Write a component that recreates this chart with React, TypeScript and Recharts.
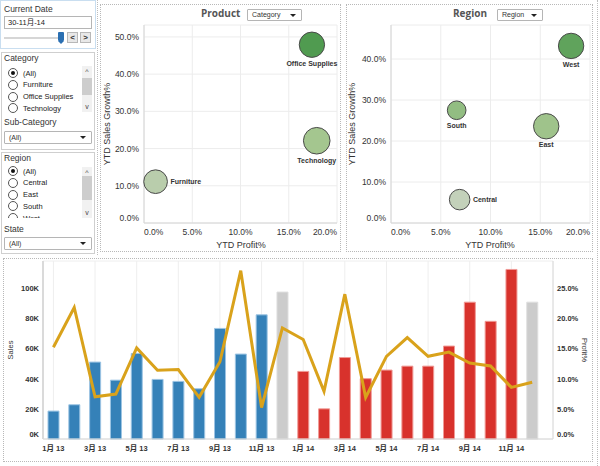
import React from 'react';
import {
  ScatterChart, Scatter, XAxis, YAxis, ZAxis, CartesianGrid, LabelList, Cell,
  ComposedChart, Bar, Line,
} from 'recharts';

const FONT = "Arial, 'Liberation Sans', 'Noto Sans CJK SC', sans-serif";
const TITLE_FONT = "'Open Sans', 'Liberation Sans', sans-serif";

// ---------- filters ----------
const currentDateText = '30-11月-14';
const currentMonth = 11;
const categoryFilterItems = ['(All)', 'Furniture', 'Office Supplies', 'Technology'];
const regionFilterItems = ['(All)', 'Central', 'East', 'South', 'West'];

// ---------- Product (Category) bubbles ----------
const categoryNames = ['Furniture', 'Office Supplies', 'Technology'];
const categoryProfitPct = [1.2, 17.4, 17.9];
const categoryGrowthPct = [11.1, 47.9, 22.1];
const categorySalesK = [215, 246, 271];

// ---------- Region bubbles ----------
const regionNames = ['Central', 'East', 'South', 'West'];
const regionProfitPct = [6.9, 15.6, 6.6, 18.1];
const regionGrowthPct = [5.7, 23.6, 27.5, 43.2];
const regionSalesK = [162, 247, 133, 247];

// ---------- monthly ----------
const monthLabels = [
  '1月 13', '2月 13', '3月 13', '4月 13', '5月 13', '6月 13', '7月 13', '8月 13', '9月 13', '10月 13', '11月 13', '12月 13',
  '1月 14', '2月 14', '3月 14', '4月 14', '5月 14', '6月 14', '7月 14', '8月 14', '9月 14', '10月 14', '11月 14', '12月 14',
];
const monthlySales = [
  18500, 22700, 51000, 39000, 56700, 39500, 38200, 33300, 73300, 56300, 82300, 97400,
  44800, 20000, 54000, 40000, 45700, 48300, 48300, 61600, 90700, 78000, 112400, 90700,
];
const monthlyProfitPct = [
  15.2, 21.8, 7.0, 7.45, 15.1, 11.4, 11.5, 6.9, 12.8, 27.9, 5.2, 18.4,
  16.5, 7.9, 24.0, 6.9, 13.7, 16.8, 13.7, 14.4, 12.6, 12.1, 8.55, 9.4,
];

// ---------- ticks ----------
const profitTicks = [0, 5, 10, 15, 20];
const productGrowthTicks = [0, 10, 20, 30, 40, 50];
const regionGrowthTicks = [0, 10, 20, 30, 40];
const salesTicks = [0, 20000, 40000, 60000, 80000, 100000];
const profitRatioTicks = [0, 0.05, 0.1, 0.15, 0.2, 0.25];
const monthTicks = [0, 2, 4, 6, 8, 10, 12, 14, 16, 18, 20, 22];

const productData = categoryNames.map((name, i) => ({
  name, x: categoryProfitPct[i], y: categoryGrowthPct[i], z: categorySalesK[i],
}));
const regionData = regionNames.map((name, i) => ({
  name, x: regionProfitPct[i], y: regionGrowthPct[i], z: regionSalesK[i],
}));
const monthData = monthLabels.map((label, i) => ({
  idx: i, label, sales: monthlySales[i], profit: monthlyProfitPct[i] / 100,
}));

function growthColor(g: number) {
  const stops: [number, number[]][] = [
    [0, [206, 213, 201]],
    [22, [164, 198, 143]],
    [48, [80, 155, 80]],
  ];
  let a = stops[0], b = stops[1];
  if (g > stops[1][0]) { a = stops[1]; b = stops[2]; }
  const t = Math.max(0, Math.min(1, (g - a[0]) / (b[0] - a[0])));
  const c = a[1].map((v, k) => Math.round(v + (b[1][k] - v) * t));
  return `rgb(${c[0]},${c[1]},${c[2]})`;
}

function barColor(i: number) {
  const month = (i % 12) + 1;
  if (month > currentMonth) return { fill: '#cccccc', stroke: '#dedede' };
  const year = monthLabels[i].slice(-2);
  return year === '13'
    ? { fill: '#3581b8', stroke: '#9cc4e3' }
    : { fill: '#d8322c', stroke: '#f09a96' };
}

const rightLabelNames = new Set(['Furniture', 'Central']);

const renderBubbleLabel = (p: any) => {
  const vb = p.viewBox && p.viewBox.width !== undefined ? p.viewBox : p;
  const { x, y, width, height } = vb;
  const value = p.value;
  const cx = x + width / 2;
  const cy = y + height / 2;
  if (rightLabelNames.has(value)) {
    return (
      <text x={x + width + 3} y={cy + 2.5} fontSize={7} fontWeight="bold" fill="#333" fontFamily={FONT}>
        {value}
      </text>
    );
  }
  return (
    <text x={cx} y={y + height + 8.5} textAnchor="middle" fontSize={7} fontWeight="bold" fill="#333" fontFamily={FONT}>
      {value}
    </text>
  );
};

const ScatterXTick = (props: any) => {
  const { x, y, payload } = props;
  const v = payload.value;
  const anchor = v === profitTicks[0] ? 'start' : v === profitTicks[profitTicks.length - 1] ? 'end' : 'middle';
  return (
    <text x={x} y={y + 12} textAnchor={anchor} fontSize={8.5} fill="#333" fontFamily={FONT}>
      {v.toFixed(1)}%
    </text>
  );
};

const ScatterYTick = (props: any) => {
  const { x, y, payload } = props;
  const v = payload.value;
  return (
    <text x={x - 5} y={v === 0 ? y - 2 : y + 3} textAnchor="end" fontSize={8.5} fill="#333" fontFamily={FONT}>
      {v.toFixed(1)}%
    </text>
  );
};

function BubbleChart({ data, width, height, yMax, yTicks, yAxisWidth }: any) {
  return (
    <ScatterChart width={width} height={height} margin={{ top: 22, right: 6, bottom: 0, left: 0 }}>
      <CartesianGrid stroke="#ececec" />
      <XAxis
        type="number" dataKey="x" domain={[0, 20]} ticks={profitTicks} interval={0}
        tick={<ScatterXTick />} tickLine={false} tickSize={0} tickMargin={0}
        axisLine={{ stroke: '#d6d6d6' }} height={30}
      />
      <YAxis
        type="number" dataKey="y" domain={[0, yMax]} ticks={yTicks} interval={0}
        tick={<ScatterYTick />} tickLine={false} tickSize={0} tickMargin={0}
        axisLine={{ stroke: '#d6d6d6' }} width={yAxisWidth}
      />
      <ZAxis type="number" dataKey="z" domain={[0, 300]} range={[0, 615]} />
      <Scatter data={data} isAnimationActive={false} stroke="#4a4a4a" strokeWidth={1}>
        {data.map((d: any, i: number) => (
          <Cell key={i} fill={growthColor(d.y)} />
        ))}
        <LabelList dataKey="name" content={renderBubbleLabel} />
      </Scatter>
    </ScatterChart>
  );
}

const MonthTick = (props: any) => {
  const { x, y, payload } = props;
  const label = monthLabels[payload.value] ?? '';
  return (
    <text x={x} y={y + 12} textAnchor="middle" fontSize={7.5} fontWeight="bold" fill="#333" fontFamily={FONT}>
      {label}
    </text>
  );
};

const SalesTick = (props: any) => {
  const { x, y, payload } = props;
  const v = payload.value;
  return (
    <text x={x - 4} y={v === 0 ? y - 2 : y + 3} textAnchor="end" fontSize={7.5} fontWeight="bold" fill="#333" fontFamily={FONT}>
      {Math.round(v / 1000)}K
    </text>
  );
};

const ProfitTick = (props: any) => {
  const { x, y, payload } = props;
  const v = payload.value;
  return (
    <text x={x + 4} y={v === 0 ? y - 2 : y + 3} textAnchor="start" fontSize={7.5} fontWeight="bold" fill="#333" fontFamily={FONT}>
      {(v * 100).toFixed(1)}%
    </text>
  );
};

function Radio({ checked, top, label }: any) {
  return (
    <div style={{ position: 'absolute', left: 8, top: top - 5, height: 10, display: 'flex', alignItems: 'center' }}>
      <div style={{
        width: 8, height: 8, borderRadius: '50%', border: '1px solid #555', background: '#fff',
        position: 'relative', boxSizing: 'content-box',
      }}>
        {checked && (
          <div style={{ position: 'absolute', left: 2, top: 2, width: 4, height: 4, borderRadius: '50%', background: '#111' }} />
        )}
      </div>
      <span style={{ marginLeft: 5, fontSize: 7.5, color: '#222', whiteSpace: 'nowrap' }}>{label}</span>
    </div>
  );
}

function Scrollbar({ top, height, thumbTop, thumbHeight }: any) {
  return (
    <div style={{ position: 'absolute', left: 82, top, width: 10, height, background: '#f1f1f1' }}>
      <div style={{ position: 'absolute', left: 0, top: 0, width: 10, height: 9, fontSize: 7, textAlign: 'center', lineHeight: '11px', color: '#444' }}>^</div>
      <div style={{ position: 'absolute', left: 0, top: thumbTop, width: 10, height: thumbHeight, background: '#cdcdcd' }} />
      <div style={{ position: 'absolute', left: 0, bottom: 0, width: 10, height: 9, fontSize: 7, textAlign: 'center', lineHeight: '8px', color: '#444' }}>v</div>
    </div>
  );
}

function Dropdown({ left, top, width, height, text, fontSize }: any) {
  return (
    <div style={{
      position: 'absolute', left, top, width, height, border: '1px solid #b5b5b5', background: '#fff',
      boxSizing: 'border-box', borderRadius: 1,
    }}>
      <span style={{ position: 'absolute', left: 4, top: 0, lineHeight: `${height - 2}px`, fontSize, color: '#333' }}>{text}</span>
      <div style={{
        position: 'absolute', right: 5, top: (height - 2) / 2 - 1.5, width: 0, height: 0,
        borderLeft: '3px solid transparent', borderRight: '3px solid transparent', borderTop: '3px solid #222',
      }} />
    </div>
  );
}

function FilterPanel() {
  return (
    <>
      {/* Current Date */}
      <div style={{ position: 'absolute', left: 0, top: 0, width: 96, height: 49, border: '1px solid #c9def0', boxSizing: 'border-box' }} />
      <div style={{ position: 'absolute', left: 4, top: 4, fontSize: 8.5, color: '#333' }}>Current Date</div>
      <div style={{ position: 'absolute', left: 4, top: 16, width: 88, height: 13, border: '1px solid #b5b5b5', boxSizing: 'border-box', background: '#fff' }}>
        <span style={{ position: 'absolute', left: 3, top: 0, lineHeight: '11px', fontSize: 7.5, color: '#222' }}>{currentDateText}</span>
      </div>
      <div style={{ position: 'absolute', left: 4, top: 37, width: 60, height: 2, background: '#d6d6d6' }} />
      <div style={{ position: 'absolute', left: 58, top: 32, width: 6, height: 9, background: '#2a6fb2', borderRadius: 1 }} />
      <div style={{
        position: 'absolute', left: 58, top: 41, width: 0, height: 0,
        borderLeft: '3px solid transparent', borderRight: '3px solid transparent', borderTop: '3px solid #2a6fb2',
      }} />
      <div style={{ position: 'absolute', left: 67, top: 32, width: 11, height: 11, background: '#e8e8e8', border: '1px solid #b8b8b8', boxSizing: 'border-box', fontSize: 8, fontWeight: 'bold', textAlign: 'center', lineHeight: '9px' }}>&lt;</div>
      <div style={{ position: 'absolute', left: 80, top: 32, width: 11, height: 11, background: '#e8e8e8', border: '1px solid #b8b8b8', boxSizing: 'border-box', fontSize: 8, fontWeight: 'bold', textAlign: 'center', lineHeight: '9px' }}>&gt;</div>

      {/* Category box */}
      <div style={{ position: 'absolute', left: 1, top: 52, width: 94, height: 98, border: '1px solid #cfcfcf', boxSizing: 'border-box' }} />
      <div style={{ position: 'absolute', left: 4, top: 53, fontSize: 8.5, color: '#333' }}>Category</div>
      {categoryFilterItems.map((item, i) => (
        <Radio key={item} checked={i === 0} top={73 + i * 11.8} label={item} />
      ))}
      <Scrollbar top={66} height={46} thumbTop={12} thumbHeight={17} />
      <div style={{ position: 'absolute', left: 4, top: 117, fontSize: 8.5, color: '#333' }}>Sub-Category</div>
      <Dropdown left={4} top={131} width={88} height={13} text="(All)" fontSize={7} />

      {/* Region box */}
      <div style={{ position: 'absolute', left: 1, top: 152, width: 94, height: 102, border: '1px solid #cfcfcf', boxSizing: 'border-box' }} />
      <div style={{ position: 'absolute', left: 4, top: 153, fontSize: 8.5, color: '#333' }}>Region</div>
      <div style={{ position: 'absolute', left: 0, top: 164, width: 96, height: 54, overflow: 'hidden' }}>
        <div style={{ position: 'absolute', left: 0, top: -164, width: 96, height: 300 }}>
          {regionFilterItems.map((item, i) => (
            <Radio key={item} checked={i === 0} top={171 + i * 11.8} label={item} />
          ))}
        </div>
      </div>
      <Scrollbar top={167} height={51} thumbTop={9} thumbHeight={24} />
      <div style={{ position: 'absolute', left: 4, top: 224, fontSize: 8.5, color: '#333' }}>State</div>
      <Dropdown left={4} top={237} width={88} height={13} text="(All)" fontSize={7} />

      {/* separator */}
      <div style={{ position: 'absolute', left: 97, top: 0, width: 0, height: 255, borderLeft: '1px dotted #bdbdbd' }} />
    </>
  );
}

function RotLabel({ x, y, text, angle, size, bold }: any) {
  return (
    <div style={{
      position: 'absolute', left: x, top: y, transform: `translate(-50%, -50%) rotate(${angle}deg)`,
      fontSize: size, color: '#333', whiteSpace: 'nowrap', fontWeight: bold ? 'bold' : 'normal', lineHeight: 1,
    }}>{text}</div>
  );
}

export default function App() {
  return (
    <div style={{
      position: 'fixed', left: 0, top: 0, width: 600, height: 466, background: '#fff',
      overflow: 'hidden', fontFamily: FONT, color: '#333',
    }}>
      <FilterPanel />

      {/* Product panel */}
      <div style={{ position: 'absolute', left: 100, top: 4, width: 241, height: 248, border: '1px dotted #b8b8b8', boxSizing: 'border-box' }} />
      <div style={{ position: 'absolute', left: 100, top: 3 }}>
        <BubbleChart data={productData} width={243} height={250} yMax={53.2} yTicks={productGrowthTicks} yAxisWidth={44} />
      </div>
      <div style={{ position: 'absolute', left: 201, top: 6, fontFamily: TITLE_FONT, fontWeight: 'bold', fontSize: 10, color: '#555' }}>Product</div>
      <Dropdown left={247} top={9} width={55} height={12} text="Category" fontSize={7} />
      <RotLabel x={107} y={124} text="YTD Sales Growth%" angle={-90} size={9} />
      <RotLabel x={241} y={245} text="YTD Profit%" angle={0} size={9} />

      {/* Region panel */}
      <div style={{ position: 'absolute', left: 346, top: 4, width: 247, height: 248, border: '1px dotted #b8b8b8', boxSizing: 'border-box' }} />
      <div style={{ position: 'absolute', left: 346, top: 3 }}>
        <BubbleChart data={regionData} width={250} height={250} yMax={48.3} yTicks={regionGrowthTicks} yAxisWidth={45} />
      </div>
      <div style={{ position: 'absolute', left: 453, top: 6, fontFamily: TITLE_FONT, fontWeight: 'bold', fontSize: 10, color: '#555' }}>Region</div>
      <Dropdown left={497} top={9} width={46} height={12} text="Region" fontSize={7} />
      <RotLabel x={352} y={124} text="YTD Sales Growth%" angle={-90} size={9} />
      <RotLabel x={490} y={245} text="YTD Profit%" angle={0} size={9} />

      {/* right edge */}
      <div style={{ position: 'absolute', left: 597, top: 0, width: 0, height: 466, borderLeft: '1px dotted #bdbdbd' }} />

      {/* Bottom panel */}
      <div style={{ position: 'absolute', left: 3, top: 258, width: 590, height: 204, border: '1px dotted #b8b8b8', boxSizing: 'border-box' }} />
      <div style={{ position: 'absolute', left: 3, top: 258 }}>
        <ComposedChart width={590} height={204} data={monthData} margin={{ top: 3, right: 0, bottom: 3, left: 0 }}>
          <CartesianGrid stroke="#eeeeee" />
          <XAxis
            type="number" dataKey="idx" domain={[-0.5, 24]} ticks={monthTicks} interval={0}
            tick={<MonthTick />} tickLine={false} tickSize={0} tickMargin={0}
            axisLine={{ stroke: '#d6d6d6' }} height={20} allowDataOverflow
          />
          <YAxis
            yAxisId="left" type="number" domain={[0, 118000]} ticks={salesTicks} interval={0}
            tick={<SalesTick />} tickLine={false} tickSize={0} tickMargin={0}
            axisLine={{ stroke: '#dadada', strokeWidth: 2 }} width={40}
          />
          <YAxis
            yAxisId="right" orientation="right" type="number" domain={[0, 0.295]} ticks={profitRatioTicks} interval={0}
            tick={<ProfitTick />} tickLine={false} tickSize={0} tickMargin={0}
            axisLine={{ stroke: '#dadada' }} width={40}
          />
          <Bar yAxisId="left" dataKey="sales" barSize={11} isAnimationActive={false} strokeWidth={1}>
            {monthData.map((d, i) => {
              const c = barColor(i);
              return <Cell key={i} fill={c.fill} stroke={c.stroke} />;
            })}
          </Bar>
          <Line
            yAxisId="right" type="linear" dataKey="profit" stroke="#d9a21b" strokeWidth={3}
            dot={false} activeDot={false} isAnimationActive={false}
          />
        </ComposedChart>
      </div>
      <RotLabel x={11} y={350} text="Sales" angle={-90} size={7.5} />
      <RotLabel x={584} y={350} text="Profit%" angle={90} size={7.5} />
    </div>
  );
}
